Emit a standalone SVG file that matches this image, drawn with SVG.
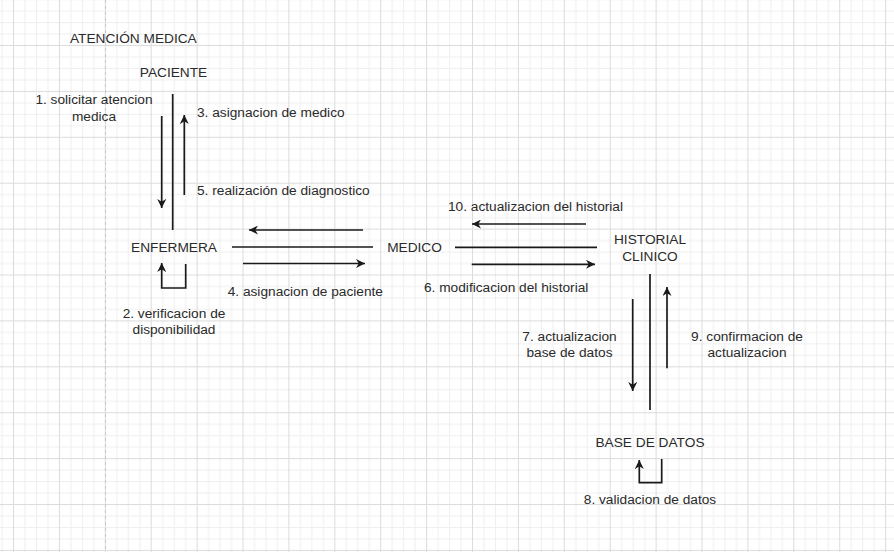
<svg xmlns="http://www.w3.org/2000/svg" width="894" height="552" viewBox="0 0 894 552">
<style>
text{font-family:"Liberation Sans",Arial,sans-serif;font-size:13.7px;fill:#2a2a2a}
.c{text-anchor:middle}
.ln{stroke:#1a1a1a;stroke-width:1.7;fill:none}
.ar{stroke:#1a1a1a;stroke-width:1.7;fill:none;marker-end:url(#ah)}
</style>
<defs>
<pattern id="grid" patternUnits="userSpaceOnUse" x="13" y="-0.9" width="45.9" height="45.9">
<rect width="45.9" height="45.9" fill="#ffffff"/>
<g fill="#efefef">
<rect x="11.475" y="0" width="1" height="45.9"/>
<rect x="22.95" y="0" width="1" height="45.9"/>
<rect x="34.425" y="0" width="1" height="45.9"/>
<rect x="0" y="11.475" width="45.9" height="1"/>
<rect x="0" y="22.95" width="45.9" height="1"/>
<rect x="0" y="34.425" width="45.9" height="1"/>
</g>
<g fill="#dcdcdc">
<rect x="0" y="0" width="1" height="45.9"/>
<rect x="0" y="0" width="45.9" height="1"/>
</g>
</pattern>
<marker id="ah" viewBox="0 0 10 10" refX="10" refY="5" markerWidth="9" markerHeight="9" markerUnits="userSpaceOnUse" orient="auto">
<path d="M0,0 L10,5 L0,10 L3,5 z" fill="#1a1a1a"/>
</marker>
</defs>
<rect width="894" height="552" fill="url(#grid)"/>
<line x1="105.5" y1="0" x2="105.5" y2="552" stroke="#c8c8c8" stroke-width="1" stroke-dasharray="3,3"/>

<g id="title"><text x="70" y="43">ATENCIÓN MEDICA</text></g>
<g id="paciente"><text class="c" x="173.5" y="77">PACIENTE</text></g>
<g id="enfermera"><text class="c" x="174" y="252">ENFERMERA</text></g>
<g id="medico"><text class="c" x="414.5" y="252">MEDICO</text></g>
<g id="historial"><text class="c" x="650" y="244">HISTORIAL</text><text class="c" x="650" y="261">CLINICO</text></g>
<g id="basedatos"><text class="c" x="650" y="447">BASE DE DATOS</text></g>

<g id="connectors">
<line class="ln" x1="172.7" y1="94" x2="172.7" y2="230"/>
<line class="ar" x1="161.7" y1="116" x2="161.7" y2="208"/>
<line class="ar" x1="184.3" y1="195" x2="184.3" y2="115"/>
<path class="ar" d="M185.7,264 V288 H161.7 V263"/>
<line class="ln" x1="232" y1="247" x2="373" y2="247"/>
<line class="ar" x1="363" y1="230" x2="249" y2="230"/>
<line class="ar" x1="243" y1="263.5" x2="365" y2="263.5"/>
<line class="ln" x1="455" y1="247.3" x2="597" y2="247.3"/>
<line class="ar" x1="586" y1="224" x2="472" y2="224"/>
<line class="ar" x1="471.7" y1="264.3" x2="595" y2="264.3"/>
<line class="ln" x1="650" y1="274" x2="650" y2="410"/>
<line class="ar" x1="632.7" y1="299" x2="632.7" y2="391"/>
<line class="ar" x1="667" y1="368.3" x2="667" y2="287"/>
<path class="ar" d="M661.7,459 V482.7 H639.3 V460"/>
</g>

<g id="labels">
<text class="c" x="94" y="104">1. solicitar atencion</text>
<text class="c" x="94" y="121">medica</text>
<text x="197" y="117">3. asignacion de medico</text>
<text x="197" y="195">5. realización de diagnostico</text>
<text class="c" x="174" y="318">2. verificacion de</text>
<text class="c" x="174" y="334">disponibilidad</text>
<text x="227.7" y="296">4. asignacion de paciente</text>
<text x="448" y="211">10. actualizacion del historial</text>
<text x="424" y="292">6. modificacion del historial</text>
<text class="c" x="569.5" y="341">7. actualizacion</text>
<text class="c" x="569.5" y="357">base de datos</text>
<text class="c" x="747" y="341">9. confirmacion de</text>
<text class="c" x="747" y="357">actualizacion</text>
<text class="c" x="650" y="503.5">8. validacion de datos</text>
</g>
</svg>
